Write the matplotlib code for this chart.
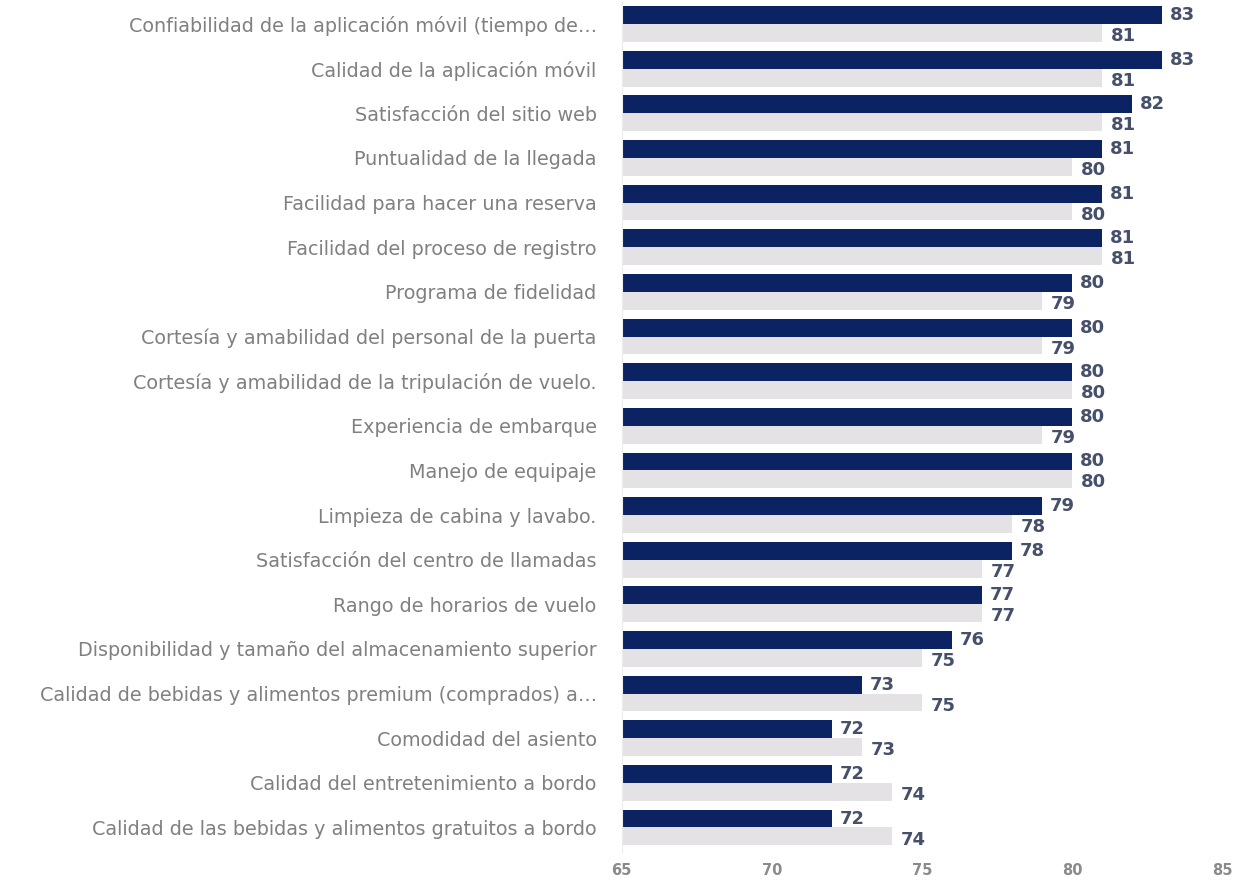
import numpy as np
import matplotlib.pyplot as plt

categories = [
    "Confiabilidad de la aplicación móvil (tiempo de…",
    "Calidad de la aplicación móvil",
    "Satisfacción del sitio web",
    "Puntualidad de la llegada",
    "Facilidad para hacer una reserva",
    "Facilidad del proceso de registro",
    "Programa de fidelidad",
    "Cortesía y amabilidad del personal de la puerta",
    "Cortesía y amabilidad de la tripulación de vuelo.",
    "Experiencia de embarque",
    "Manejo de equipaje",
    "Limpieza de cabina y lavabo.",
    "Satisfacción del centro de llamadas",
    "Rango de horarios de vuelo",
    "Disponibilidad y tamaño del almacenamiento superior",
    "Calidad de bebidas y alimentos premium (comprados) a…",
    "Comodidad del asiento",
    "Calidad del entretenimiento a bordo",
    "Calidad de las bebidas y alimentos gratuitos a bordo",
]
current = [83, 83, 82, 81, 81, 81, 80, 80, 80, 80, 80, 79, 78, 77, 76, 73, 72, 72, 72]
previous = [81, 81, 81, 80, 80, 81, 79, 79, 80, 79, 80, 78, 77, 77, 75, 75, 73, 74, 74]
xticks = [65, 70, 75, 80, 85]

navy = '#0b2263'
light = '#e4e2e4'
label_col = '#46506a'

fig = plt.figure(figsize=(12.36, 8.82), dpi=100)
ax = fig.add_axes([0.503, 0.034, 0.486, 0.964])

y = np.arange(len(categories))
h = 0.4
ax.barh(y - h / 2, current, height=h, left=0, color=navy)
ax.barh(y + h / 2, previous, height=h, left=0, color=light)

for i in range(len(categories)):
    ax.text(current[i] + 0.25, y[i] - h / 2, str(current[i]), va='center', ha='left',
            fontsize=13, fontweight='bold', color=label_col)
    ax.text(previous[i] + 0.3, y[i] + h / 2 + 0.07, str(previous[i]), va='center', ha='left',
            fontsize=13, fontweight='bold', color=label_col)

ax.set_xlim(65, 85)
ax.set_ylim(18.55, -0.5)
ax.set_yticks(y)
ax.set_yticklabels(categories, fontsize=13.8, color='#808080')
ax.set_xticks(xticks)
ax.set_xticklabels([str(t) for t in xticks], fontsize=10.5, color='#8a8a8a', fontweight='bold')
ax.tick_params(length=0)
ax.tick_params(axis='y', pad=18)
ax.tick_params(axis='x', pad=8)
for s in ['top', 'right', 'bottom']:
    ax.spines[s].set_visible(False)
ax.spines['left'].set_color('#ececec')

fig.savefig('out.png', dpi=100)
